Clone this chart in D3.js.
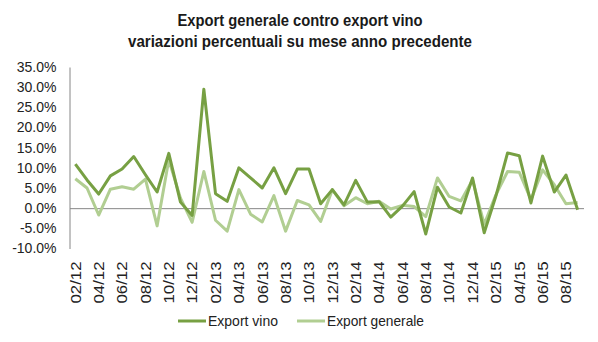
<!DOCTYPE html>
<html><head><meta charset="utf-8">
<script src="https://cdn.jsdelivr.net/npm/d3@7"></script>
<style>
body{margin:0;background:#fff;}
svg{display:block;}
</style></head>
<body>
<svg id="c" width="598" height="342"></svg>
<script>
const months = ["02/12","03/12","04/12","05/12","06/12","07/12","08/12","09/12","10/12","11/12","12/12",
"01/13","02/13","03/13","04/13","05/13","06/13","07/13","08/13","09/13","10/13","11/13","12/13",
"01/14","02/14","03/14","04/14","05/14","06/14","07/14","08/14","09/14","10/14","11/14","12/14",
"01/15","02/15","03/15","04/15","05/15","06/15","07/15","08/15","09/15"];
const exportVino = [10.9,7.0,3.5,8.0,9.7,12.8,8.3,4.0,13.6,1.5,-1.8,
29.5,3.6,1.7,10.0,7.5,5.0,10.0,3.6,9.7,9.7,1.1,4.6,
0.8,6.9,1.5,1.6,-2.2,0.5,4.1,-6.4,5.2,0.3,-1.2,7.5,
-6.1,3.0,13.7,13.0,1.3,12.9,4.0,8.2,-0.4];
const exportGenerale = [7.3,5.0,-1.7,4.7,5.3,4.7,7.2,-4.4,12.0,2.5,-3.5,
9.1,-3.0,-5.7,4.6,-1.5,-3.4,3.1,-5.7,1.9,0.8,-3.3,4.6,
0.6,2.6,1.1,1.7,-0.2,0.7,0.4,-2.1,7.5,2.9,1.8,7.0,
-4.0,3.3,9.1,8.9,2.1,9.5,5.8,1.1,1.4];
const yTicks = [-10,-5,0,5,10,15,20,25,30,35];
const seriesNames = ["Export vino","Export generale"];
const titleLines = ["Export generale contro export vino","variazioni percentuali su mese anno precedente"];

(function(){
const colors = ["#77a043","#b1ce92"];
const svg = d3.select("#c");
const pl = 69.5, pr = 583.5, pt = 67, pb = 248.5;
const x = d3.scaleBand().domain(months).range([pl, pr]);
const y = d3.scaleLinear().domain([-10,35]).range([pb, pt]);
const cx = m => x(m) + x.bandwidth()/2;
const font = "'Liberation Sans',Arial,sans-serif";

const titleW = [245, 344];
svg.append("g").selectAll("text").data(titleLines).join("text")
  .attr("x", 300).attr("y", (d,i)=>26 + i*21)
  .attr("text-anchor","middle")
  .attr("font-family", font).attr("font-weight","bold").attr("font-size",16)
  .attr("textLength",(d,i)=>titleW[i]).attr("lengthAdjust","spacingAndGlyphs")
  .attr("fill","#1a1a1a").text(d=>d);

const yAxis = d3.axisLeft(y).tickValues(yTicks).tickSize(0).tickPadding(13)
  .tickFormat(d => d.toFixed(1) + "%");
const gy = svg.append("g").attr("transform",`translate(${pl},0)`).call(yAxis);
gy.select(".domain").attr("stroke","#868686").attr("stroke-width",1);
gy.selectAll("text").attr("font-family",font).attr("font-size",14).attr("fill","#222");

const xAxis = d3.axisBottom(x).tickSize(0).tickFormat(()=>"");
const gx = svg.append("g").attr("transform",`translate(0,${y(0)})`).call(xAxis);
gx.select(".domain").attr("stroke","#868686").attr("stroke-width",1);

const xLab = d3.axisBottom(x).tickValues(months.filter((d,i)=>i%2===0)).tickSize(0).tickPadding(0);
const gxl = svg.append("g").attr("transform",`translate(0,${pb})`).call(xLab);
gxl.select(".domain").remove();
gxl.selectAll("text")
  .attr("font-family",font).attr("font-size",15).attr("fill","#222")
  .attr("textLength",42).attr("lengthAdjust","spacingAndGlyphs")
  .attr("transform","rotate(-90)")
  .attr("text-anchor","end").attr("dy","0.35em").attr("x",-13).attr("y",0);

const series = [exportVino, exportGenerale];
const line = d3.line().x((d,i)=>cx(months[i])).y(d=>y(d));
svg.append("g").selectAll("path").data([series[1],series[0]]).join("path")
  .attr("d", line).attr("fill","none")
  .attr("stroke",(d,i)=> i===0 ? colors[1] : colors[0])
  .attr("stroke-width",3).attr("stroke-linejoin","round");

const legX = [178, 297];
const legW = [70, 97];
const lg = svg.append("g").selectAll("g").data(seriesNames).join("g")
  .attr("transform",(d,i)=>`translate(${legX[i]},321)`);
lg.append("line").attr("x1",0).attr("x2",28).attr("y1",0).attr("y2",0)
  .attr("stroke",(d,i)=>colors[i]).attr("stroke-width",3);
lg.append("text").attr("x",30).attr("y",0).attr("dy","0.35em")
  .attr("textLength",(d,i)=>legW[i]).attr("lengthAdjust","spacingAndGlyphs")
  .attr("font-family",font).attr("font-size",15).attr("fill","#222").text(d=>d);
})();
</script>
</body></html>
